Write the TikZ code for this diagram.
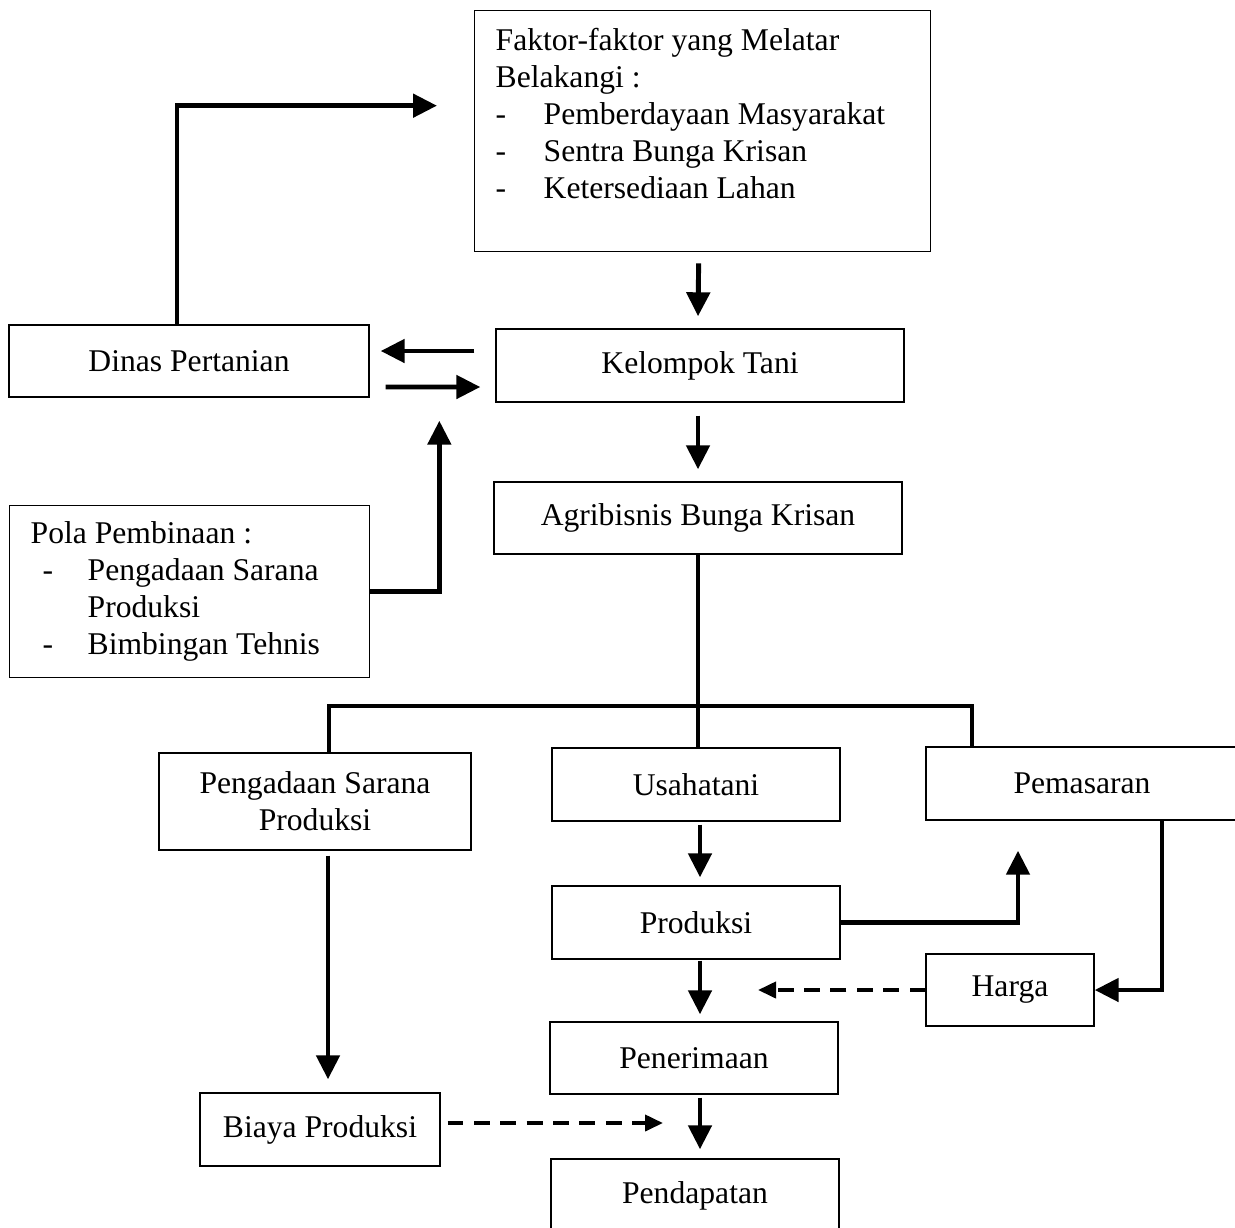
\documentclass[tikz,border=0pt]{standalone}
\usepackage{fontspec}
\setmainfont{Liberation Serif}
\usetikzlibrary{calc,arrows.meta}
\newcommand{\itm}[2][0.96cm]{\makebox[#1][l]{-}#2}
\tikzset{
  box/.style={draw,line width=0.8pt,inner sep=0pt,align=center,font=\fontsize{18}{21}\selectfont},
  arr/.style={line width=2.8pt,-{Triangle[length=0.48cm,width=0.46cm]}},
  darr/.style={line width=2.2pt,dash pattern=on 9pt off 6pt,-{Triangle[length=0.36cm,width=0.32cm]}},
  link/.style={line width=2.8pt},
}
\begin{document}
\begin{tikzpicture}[x=0.02cm,y=-0.02cm]
\useasboundingbox (0,0) rectangle (1235,1228);
\clip (0,0) rectangle (1235,1228);
% boxes
\node[box,anchor=north west,inner xsep=0.42cm,inner ysep=0.36cm,align=left] (faktor) at (474,10) {\parbox[c][4.1cm][t]{8.28cm}{Faktor-faktor yang Melatar\\Belakangi :\\\itm{Pemberdayaan Masyarakat}\\\itm{Sentra Bunga Krisan}\\\itm{Ketersediaan Lahan}}};
\node[box,minimum width=7.2cm,minimum height=1.44cm] (dinas) at (189,361) {Dinas Pertanian};
\node[box,minimum width=8.16cm,minimum height=1.46cm] (kelompok) at (700,365.5) {Kelompok Tani};
\node[box,minimum width=8.16cm,minimum height=1.44cm] (agri) at (698,518) {Agribisnis Bunga Krisan};
\node[box,anchor=north west,inner xsep=0.42cm,align=left] (pola) at (9,505) {\parbox[c][3.44cm][c]{6.36cm}{Pola Pembinaan :\\\hspace*{0.24cm}\itm[0.9cm]{Pengadaan Sarana}\\\hspace*{1.14cm}Produksi\\\hspace*{0.24cm}\itm[0.9cm]{Bimbingan Tehnis}}};
\node[box,minimum width=6.24cm,minimum height=1.94cm] (pengadaan) at (315,801.5) {Pengadaan Sarana\\Produksi};
\node[box,minimum width=5.76cm,minimum height=1.46cm] (usahatani) at (696,784.5) {Usahatani};
\node[box,minimum width=6.24cm,minimum height=1.46cm] (pemasaran) at (1082,783.5) {Pemasaran};
\node[box,minimum width=5.76cm,minimum height=1.46cm] (produksi) at (696,922.5) {Produksi};
\node[box,minimum width=3.36cm,minimum height=1.44cm] (harga) at (1010,990) {Harga};
\node[box,minimum width=5.76cm,minimum height=1.44cm] (penerimaan) at (694,1058) {Penerimaan};
\node[box,minimum width=4.8cm,minimum height=1.46cm] (biaya) at (320,1129.5) {Biaya Produksi};
\node[box,minimum width=5.76cm,minimum height=1.46cm] (pendapatan) at (695,1195.5) {Pendapatan};
% connectors
\draw[arr] ($(dinas.north)+(-12,0)$) |- ($(faktor.west)+(-37,-25.5)$);
\draw[arr] ($(faktor.south)+(-4,11)$) -- ($(kelompok.north)+(-2,-12)$);
\draw[arr] ($(kelompok.west)+(-21,-14.5)$) -- ($(dinas.east)+(11,-10)$);
\draw[arr] ($(dinas.east)+(16,26)$) -- ($(kelompok.west)+(-15,21.5)$);
\draw[arr] (pola.east) -| ($(kelompok.south west)+(-56,18)$);
\draw[arr] ($(kelompok.south)+(-2,13)$) -- ($(agri.north)+(0,-12)$);
\coordinate (split) at (698,706);
\draw[link] (agri.south) -- (agri.south |- usahatani.north);
\draw[link] ($(pengadaan.north)+(14,0)$) |- (split) -| ($(pemasaran.north)+(-110,0)$);
\draw[arr] ($(usahatani.south)+(4,3)$) -- ($(produksi.north)+(4,-8)$);
\draw[arr] (produksi.east) -| ($(pemasaran.south)+(-64,30)$);
\draw[arr] ($(pemasaran.south)+(80,0)$) |- (harga.east);
\draw[darr] (harga.west) -- ($(produksi.south |- harga.west)+(62,0)$);
\draw[arr] ($(produksi.south)+(4,1)$) -- ($(penerimaan.north)+(6,-7)$);
\draw[arr] ($(pengadaan.south)+(13,5)$) -- ($(biaya.north)+(8,-13)$);
\draw[darr] ($(biaya.east)+(7,-6.5)$) -- ($(penerimaan.south |- biaya.east)+(-31,-6.5)$);
\draw[arr] ($(penerimaan.south)+(6,3)$) -- ($(pendapatan.north)+(5,-9)$);
\end{tikzpicture}
\end{document}
